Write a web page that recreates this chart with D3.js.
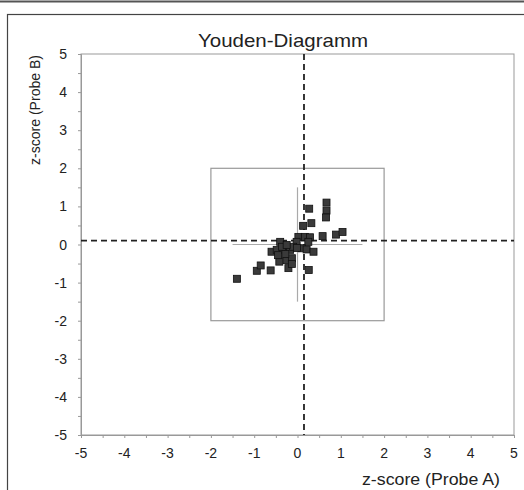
<!DOCTYPE html>
<html>
<head>
<meta charset="utf-8">
<script src="https://cdn.jsdelivr.net/npm/d3@7/dist/d3.min.js"></script>
<style>
  html, body { margin: 0; padding: 0; background: #fff; }
  svg { display: block; font-family: Arial, "Liberation Sans", sans-serif; }
</style>
</head>
<body>
<svg id="chart" width="524" height="490"></svg>
<script>
// ---- data ----
const title = "Youden-Diagramm";
const xLabel = "z-score (Probe A)";
const yLabel = "z-score (Probe B)";
const tickValues = [-5, -4, -3, -2, -1, 0, 1, 2, 3, 4, 5];
const minorTickValues = [-5, -4.5, -4, -3.5, -3, -2.5, -2, -1.5, -1, -0.5, 0, 0.5, 1, 1.5, 2, 2.5, 3, 3.5, 4, 4.5, 5];
const probeA = [-1.40, -0.94, -0.85, -0.62, 0.67, 0.67, 0.66, 0.27, 0.32, 0.13, 0.58, 0.89, 1.04, 0.26,
  0.02, 0.17, 0.29, -0.02, 0.25, 0.10, 0.21, 0.37, -0.40, -0.60, -0.48, -0.33, -0.17, -0.10, -0.36, -0.25,
  -0.42, -0.25, -0.13, -0.21, -0.13, -0.01, -0.45, -0.28];
const probeB = [-0.90, -0.69, -0.55, -0.68, 1.10, 0.89, 0.71, 0.94, 0.56, 0.49, 0.22, 0.26, 0.33, -0.67,
  0.20, 0.20, 0.19, 0.07, 0.07, -0.10, -0.13, -0.19, 0.07, -0.19, -0.14, -0.14, -0.14, -0.06, -0.06, -0.01,
  -0.45, -0.41, -0.36, -0.62, -0.51, -0.09, -0.28, -0.25];
const medianA = 0.15;     // dashed vertical reference line
const medianB = 0.10;     // dashed horizontal reference line
const limitBox = [-2, 2]; // z-score limit square
const crossExtent = [-1.5, 1.5]; // thin cross through origin

// ---- layout ----
const svg = d3.select("#chart");
const L = 81, R = 514, T = 54, B = 435;
const x = d3.scaleLinear().domain([-5, 5]).range([L, R]);
const y = d3.scaleLinear().domain([-5, 5]).range([B, T]);

// page rule and outer frame
svg.append("line").attr("x1", 0).attr("x2", 524).attr("y1", 1.5).attr("y2", 1.5)
  .attr("stroke", "#555").attr("stroke-width", 2);
svg.append("rect").attr("x", 7.5).attr("y", 14.5).attr("width", 540).attr("height", 500)
  .attr("fill", "none").attr("stroke", "#444").attr("stroke-width", 1.2);

// plot frame
svg.append("rect").attr("x", x(-5)).attr("y", y(5))
  .attr("width", x(5) - x(-5)).attr("height", y(-5) - y(5))
  .attr("fill", "none").attr("stroke", "#999").attr("stroke-width", 1);

// axes with minor ticks
const gx = svg.append("g").attr("transform", `translate(0,${B})`)
  .call(d3.axisBottom(x).tickValues(minorTickValues).tickSize(3).tickFormat(""));
const gy = svg.append("g").attr("transform", `translate(${L},0)`)
  .call(d3.axisLeft(y).tickValues(minorTickValues).tickSize(3).tickFormat(""));
[gx, gy].forEach(g => {
  g.selectAll("path, line").attr("stroke", "#999");
});

// tick labels
svg.append("g").selectAll("text").data(tickValues).join("text")
  .attr("x", d => x(d)).attr("y", 458)
  .attr("text-anchor", "middle").attr("font-size", 14).attr("fill", "#222")
  .text(d => d);
svg.append("g").selectAll("text").data(tickValues).join("text")
  .attr("x", 67).attr("y", d => y(d) + 5)
  .attr("text-anchor", "end").attr("font-size", 14).attr("fill", "#222")
  .text(d => d);

// limit box
svg.append("rect").attr("x", x(limitBox[0])).attr("y", y(limitBox[1]))
  .attr("width", x(limitBox[1]) - x(limitBox[0])).attr("height", y(limitBox[0]) - y(limitBox[1]))
  .attr("fill", "none").attr("stroke", "#999").attr("stroke-width", 1.2);

// thin cross through origin
svg.append("line").attr("x1", x(0)).attr("x2", x(0)).attr("y1", y(crossExtent[1])).attr("y2", y(crossExtent[0]))
  .attr("stroke", "#aaa").attr("stroke-width", 1.2);
svg.append("line").attr("x1", x(crossExtent[0])).attr("x2", x(crossExtent[1])).attr("y1", y(0)).attr("y2", y(0))
  .attr("stroke", "#aaa").attr("stroke-width", 1.2);

// dashed reference lines
svg.append("line").attr("x1", x(medianA)).attr("x2", x(medianA)).attr("y1", y(5)).attr("y2", y(-5))
  .attr("stroke", "#222").attr("stroke-width", 1.8).attr("stroke-dasharray", "6,4");
svg.append("line").attr("x1", x(-5)).attr("x2", x(5)).attr("y1", y(medianB)).attr("y2", y(medianB))
  .attr("stroke", "#222").attr("stroke-width", 1.8).attr("stroke-dasharray", "6,4");

// points
const pts = probeA.map((a, i) => ({ a, b: probeB[i] }));
const s = 7;
svg.append("g").selectAll("rect").data(pts).join("rect")
  .attr("x", d => x(d.a) - s / 2).attr("y", d => y(d.b) - s / 2)
  .attr("width", s).attr("height", s)
  .attr("fill", "#3a3a3a").attr("stroke", "#111").attr("stroke-width", 0.8);

// title and axis labels
svg.append("text").attr("x", 283).attr("y", 47).attr("text-anchor", "middle")
  .attr("font-size", 19).attr("textLength", 170).attr("lengthAdjust", "spacingAndGlyphs")
  .attr("fill", "#222").text(title);
svg.append("text").attr("x", 431).attr("y", 485).attr("text-anchor", "middle")
  .attr("font-size", 16).attr("textLength", 138).attr("lengthAdjust", "spacingAndGlyphs")
  .attr("fill", "#222").text(xLabel);
svg.append("text").attr("transform", "translate(40,110) rotate(-90)").attr("text-anchor", "middle")
  .attr("font-size", 15).attr("textLength", 110).attr("lengthAdjust", "spacingAndGlyphs")
  .attr("fill", "#222").text(yLabel);
</script>
</body>
</html>
